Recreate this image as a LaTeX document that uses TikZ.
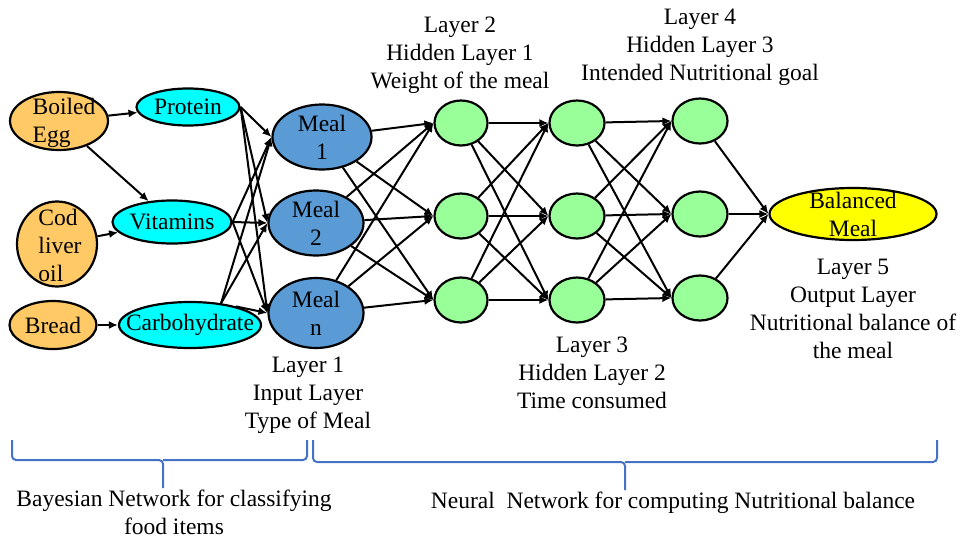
\documentclass[tikz,border=0pt]{standalone}
\usepackage{fontspec}
\setmainfont{Liberation Serif}
\usetikzlibrary{shapes.geometric,arrows.meta}

\definecolor{foodc}{HTML}{FFC966}
\definecolor{nutrc}{HTML}{00FFFF}
\definecolor{mealc}{HTML}{5B9BD5}
\definecolor{hidc}{HTML}{99FF99}
\definecolor{outc}{HTML}{FFFF00}
\definecolor{bracec}{HTML}{4472C4}

% ellipse with fixed size and its text set on top of it
\newcommand\blob[8][ntext]{%
  \node[shp,#6,minimum width=#4,minimum height=#5] (#2) at #3 {};
  \node[#1] (#2t) at ($#3+(#7)$) {#8};}

\usetikzlibrary{calc}

\begin{document}
\begin{tikzpicture}[x=1pt,y=-1pt,
  shp/.style={ellipse,draw=black,line width=2.2pt,inner sep=0pt},
  food/.style={fill=foodc},
  nutr/.style={fill=nutrc},
  meal/.style={fill=mealc},
  hid/.style={fill=hidc},
  outn/.style={fill=outc},
  ntext/.style={font=\fontsize{23.5}{28}\selectfont,align=left,inner sep=0pt},
  ctext/.style={font=\fontsize{23.5}{28}\selectfont,align=center,inner sep=0pt},
  lbl/.style={font=\fontsize{23.5}{28}\selectfont,align=center,inner sep=0pt},
  blbl/.style={font=\fontsize{23.5}{28}\selectfont,align=center,inner sep=0pt},
  arr/.style={-{Latex[length=9pt,width=8pt]},line width=2pt},
  brc/.style={draw=bracec,line width=2pt,rounded corners=4pt}]

\useasboundingbox (0,0) rectangle (960,538);

% Bayesian part
\blob{egg}{(59,121)}{98}{58}{food}{5,2}{Boiled\\Egg}
\blob{cod}{(57,244)}{80}{85}{food}{3,1}{Cod\\liver\\oil}
\blob{bread}{(53,325)}{87}{48}{food}{0,0}{Bread}
\blob{prot}{(188,107)}{103}{37}{nutr}{0,0}{Protein}
\blob{vit}{(172,222)}{119}{43}{nutr}{0,0}{Vitamins}
\blob{carb}{(190,325)}{142}{46}{nutr}{0,0}{Carbohydrate}
\blob[ctext]{m1}{(322,137)}{99}{65}{meal}{0,0}{Meal\\1}
\blob[ctext]{m2}{(316,223)}{95}{65}{meal}{0,0}{Meal\\2}
\blob[ctext]{mn}{(316,313)}{95}{70}{meal}{0,0}{Meal\\n}

% hidden layers
\foreach \i/\y in {1/123,2/216,3/300}{
  \node[shp,hid,minimum width=53,minimum height=45] (a\i) at (461,\y) {};
  \node[shp,hid,minimum width=55,minimum height=45] (b\i) at (577,\y) {};
}
\foreach \i/\y in {1/121,2/214,3/298}{
  \node[shp,hid,minimum width=55,minimum height=45] (c\i) at (700,\y) {};
}
\blob[ctext]{out}{(853,214)}{167}{52}{outn}{0,0}{Balanced\\Meal}

% connectors
\draw[arr] (egg) -- (prot);
\draw[arr] (egg) -- (vit);
\draw[arr] (cod) -- (vit);
\draw[arr] (bread) -- (carb);
\foreach \s in {prot,vit}
  \foreach \t in {m1,m2,mn}
    \draw[arr] (\s.east) -- (\t.west);
\draw[arr] (carb.35) -- (m1.west);
\draw[arr] (carb.35) -- (m2.west);
\draw[arr] (carb.22) -- (mn.west);
\foreach \s in {m1,m2,mn}
  \foreach \t in {a1,a2,a3}
    \draw[arr] (\s) -- (\t.west);
\foreach \s in {a1,a2,a3}
  \foreach \t in {b1,b2,b3}
    \draw[arr] (\s) -- (\t.west);
\foreach \s in {b1,b2,b3}
  \foreach \t in {c1,c2,c3}
    \draw[arr] (\s) -- (\t.west);
\foreach \s in {c1,c2,c3}
  \draw[arr] (\s) -- (out.west);

% layer captions
\node[lbl] (l2) at (460,55) {Layer 2\\Hidden Layer 1\\Weight of the meal};
\node[lbl] (l4) at (700,47) {Layer 4\\Hidden Layer 3\\Intended Nutritional goal};
\node[lbl] (l5) at (853,309) {Layer 5\\Output Layer\\Nutritional balance of\\the meal};
\node[lbl] (l3) at (592,373) {Layer 3\\Hidden Layer 2\\Time consumed};
\node[lbl] (l1) at (308,395) {Layer 1\\Input Layer\\Type of Meal};

% braces
\draw[brc] (12,440) -- (12,460) -- (163,460) -- (163,488);
\draw[brc] (307,440) -- (307,460) -- (163,460);
\draw[brc] (313,440) -- (313,462) -- (625,462) -- (625,490);
\draw[brc] (937,440) -- (937,462) -- (625,462);

\node[blbl] (bn) at (174,512) {Bayesian Network for classifying\\food items};
\node[blbl] (nn) at (673,503) {Neural\ \ Network for computing Nutritional balance};
\end{tikzpicture}
\end{document}
